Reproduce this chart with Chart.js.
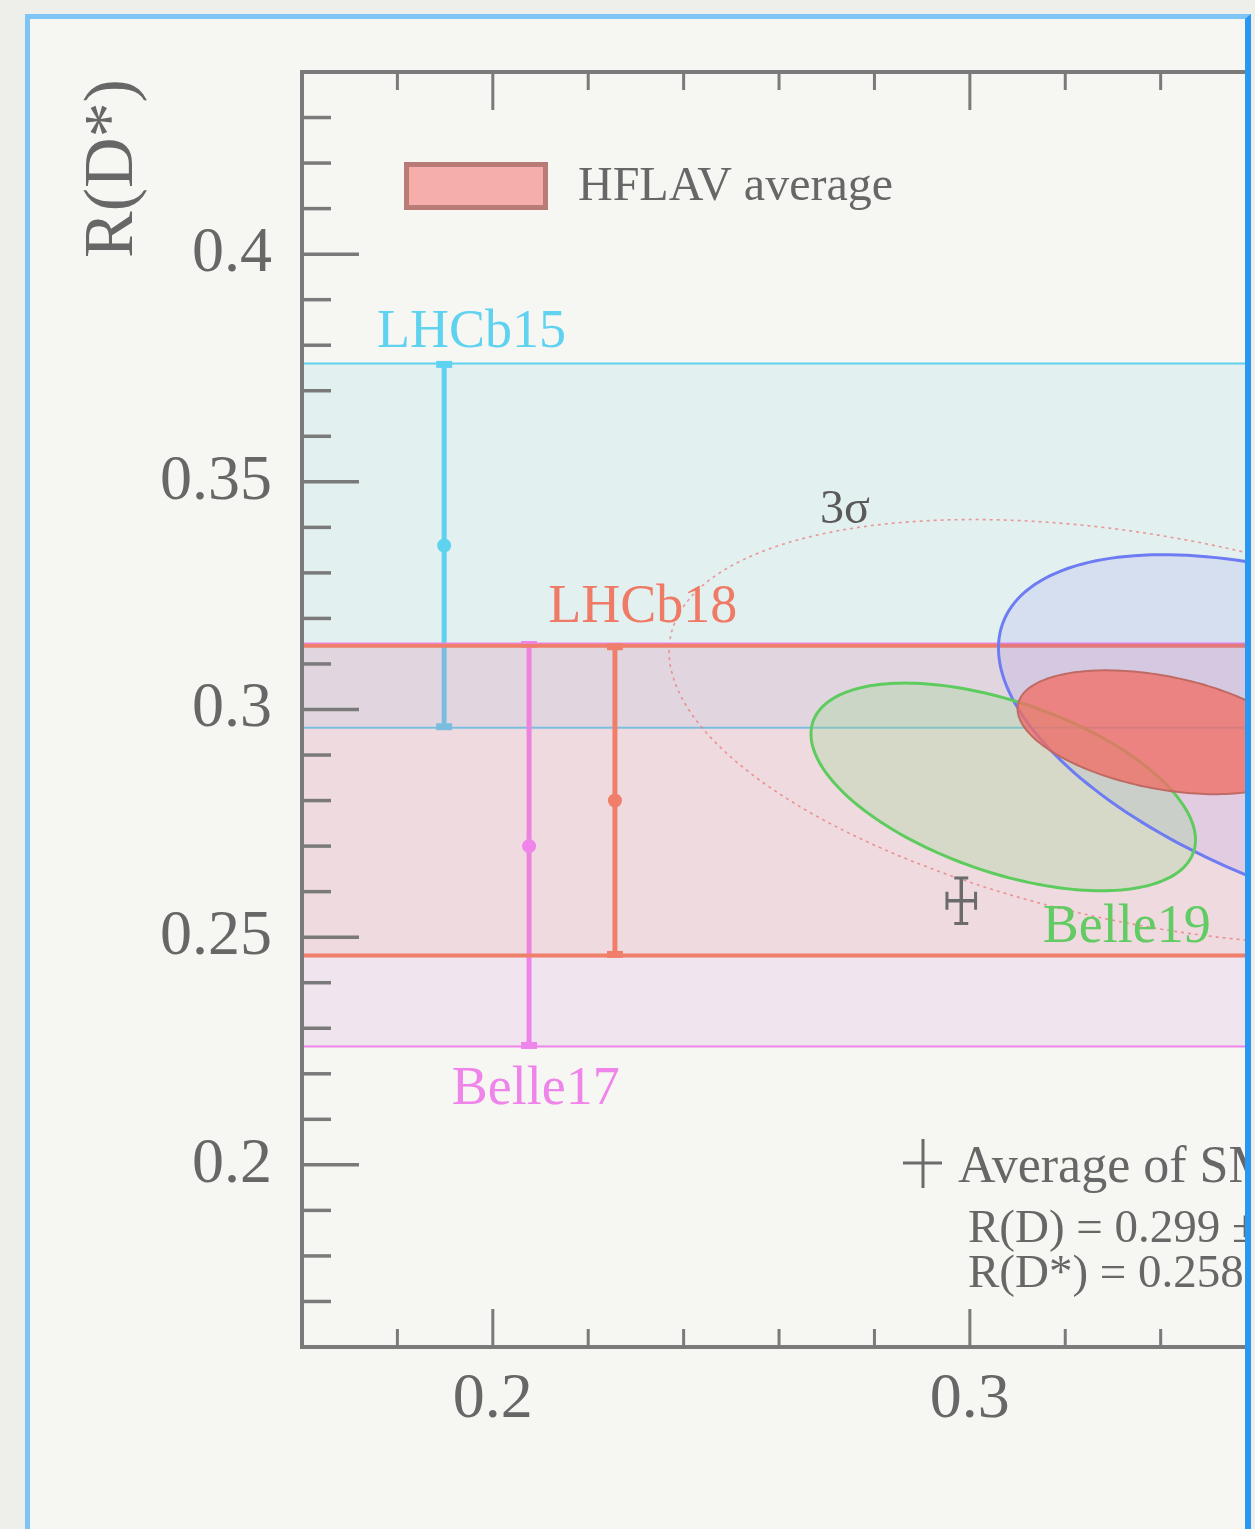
<!DOCTYPE html>
<html>
<head>
<meta charset="utf-8">
<script src="https://cdn.jsdelivr.net/npm/chart.js@4.4.1/dist/chart.umd.min.js"></script>
<style>
  html, body { margin: 0; padding: 0; width: 1255px; height: 1529px; overflow: hidden; background: #eeeeea; }
  #panel {
    position: absolute; left: 25px; top: 14px; width: 1215px; height: 1600px;
    background: #f6f6f2; overflow: hidden;
    border-left: 5px solid #7ec4f4; border-top: 5px solid #7ec4f4; border-right: 6px solid #2a97f0;
  }
  #chart { position: absolute; left: -30px; top: -19px; width: 1620px; height: 1529px; }
</style>
</head>
<body>
<div id="panel"><canvas id="chart" width="1620" height="1529"></canvas></div>
<script>
const xTickValues = [0.2, 0.3, 0.4];
const yTickValues = [0.2, 0.25, 0.3, 0.35, 0.4];

// R(D*)-only measurements: band + error bar (x is just where the bar sits)
const barNames = ["LHCb15", "Belle17", "LHCb18"];
const barX = [0.1898, 0.2076, 0.2256];
const barValue = [0.336, 0.270, 0.280];
const barHigh = [0.376, 0.3145, 0.314];
const barLow = [0.296, 0.226, 0.246];

// R(D) vs R(D*) measurements: centre, total errors, correlation
const ellNames = ["Belle15", "Belle19", "HFLAV average"];
const ellRD = [0.375, 0.307, 0.340];
const ellRDs = [0.293, 0.283, 0.295];
const ellErrRD = [0.069, 0.0403, 0.030];
const ellErrRDs = [0.041, 0.0228, 0.0136];
const ellRho = [-0.50, -0.51, -0.38];

// average of SM predictions (as drawn)
const smRD = [0.2982];
const smRDs = [0.258];
const smErrRD = [0.003];
const smErrRDs = [0.005];

const serif = '"Liberation Serif", "DejaVu Serif", serif';
const axisGray = "#7a7a7a";
const textGray = "#676767";

const barStyle = {
  LHCb15: { color: "#5fd2f0", band: "rgba(90,195,230,0.12)", line: 2 },
  Belle17: { color: "#ef84ea", band: "rgba(205,130,215,0.15)", line: 2 },
  LHCb18: { color: "#ef7f6b", band: "rgba(240,128,112,0.10)", line: 4 },
};
const ellStyle = {
  Belle15: { fill: "rgba(120,100,235,0.12)", stroke: "#6d7cf2", width: 3 },
  Belle19: { fill: "rgba(150,215,140,0.29)", stroke: "#5ecb5e", width: 3 },
  "HFLAV average": { fill: "rgba(240,110,100,0.78)", stroke: "#c06a64", width: 2 },
};

// labels placed in data coordinates
const textLabels = [
  { text: "LHCb15", x: 0.1757, y: 0.3796, color: "#5fd2f0", size: 54 },
  { text: "LHCb18", x: 0.2116, y: 0.3192, color: "#ee7b66", size: 54 },
  { text: "Belle17", x: 0.1914, y: 0.2134, color: "#ef84ea", size: 54 },
  { text: "Belle19", x: 0.3153, y: 0.2489, color: "#63cb63", size: 54 },
  { text: "3\u03c3", x: 0.2686, y: 0.341, color: "#5a5a5a", size: 48 },
];

function ellipsePath(ctx, x, y, i, k) {
  const s = Math.sqrt(k);
  const r = ellRho[i];
  ctx.beginPath();
  for (let j = 0; j <= 200; j++) {
    const t = (j / 200) * 2 * Math.PI;
    const vx = ellRD[i] + s * ellErrRD[i] * Math.cos(t);
    const vy = ellRDs[i] + s * ellErrRDs[i] * (r * Math.cos(t) + Math.sqrt(1 - r * r) * Math.sin(t));
    const px = x.getPixelForValue(vx);
    const py = y.getPixelForValue(vy);
    if (j === 0) ctx.moveTo(px, py);
    else ctx.lineTo(px, py);
  }
  ctx.closePath();
}

function line(ctx, x1, y1, x2, y2) {
  ctx.beginPath();
  ctx.moveTo(x1, y1);
  ctx.lineTo(x2, y2);
  ctx.stroke();
}

const hflavPlugin = {
  id: "hflav",
  beforeDatasetsDraw(chart) {
    const { ctx, chartArea: a, scales: { x, y } } = chart;
    ctx.save();
    ctx.beginPath();
    ctx.rect(a.left, a.top, a.right - a.left, a.bottom - a.top);
    ctx.clip();

    // bands and error bars
    barNames.forEach((name, i) => {
      const st = barStyle[name];
      const yh = y.getPixelForValue(barHigh[i]);
      const yl = y.getPixelForValue(barLow[i]);
      ctx.fillStyle = st.band;
      ctx.fillRect(a.left, yh, a.right - a.left, yl - yh);
      ctx.strokeStyle = st.color;
      ctx.lineWidth = st.line;
      line(ctx, a.left, yh, a.right, yh);
      line(ctx, a.left, yl, a.right, yl);
      const px = x.getPixelForValue(barX[i]);
      ctx.lineWidth = 5;
      line(ctx, px, yh, px, yl);
      ctx.lineWidth = 7;
      line(ctx, px - 8, yh + 1, px + 8, yh + 1);
      line(ctx, px - 8, yl - 1, px + 8, yl - 1);
    });

    // ellipses (delta chi2 = 1)
    [0, 1].forEach((i) => {
      ellipsePath(ctx, x, y, i, 1);
      ctx.fillStyle = ellStyle[ellNames[i]].fill;
      ctx.fill();
    });
    [0, 1].forEach((i) => {
      ellipsePath(ctx, x, y, i, 1);
      ctx.strokeStyle = ellStyle[ellNames[i]].stroke;
      ctx.lineWidth = ellStyle[ellNames[i]].width;
      ctx.stroke();
    });
    const av = ellStyle["HFLAV average"];
    ellipsePath(ctx, x, y, 2, 1);
    ctx.fillStyle = av.fill;
    ctx.fill();
    ctx.strokeStyle = av.stroke;
    ctx.lineWidth = av.width;
    ctx.stroke();

    // 3 sigma contour of the average
    ellipsePath(ctx, x, y, 2, 11.8);
    ctx.setLineDash([3, 4]);
    ctx.strokeStyle = "rgba(235,120,120,0.75)";
    ctx.lineWidth = 1.6;
    ctx.stroke();
    ctx.setLineDash([]);

    // SM average cross
    const cx = x.getPixelForValue(smRD[0]);
    const cy = y.getPixelForValue(smRDs[0]);
    const x1 = x.getPixelForValue(smRD[0] - smErrRD[0]);
    const x2 = x.getPixelForValue(smRD[0] + smErrRD[0]);
    const y1 = y.getPixelForValue(smRDs[0] + smErrRDs[0]);
    const y2 = y.getPixelForValue(smRDs[0] - smErrRDs[0]);
    ctx.strokeStyle = "#6b6b6b";
    ctx.lineWidth = 3.5;
    line(ctx, cx, y1, cx, y2);
    line(ctx, x1, cy, x2, cy);
    ctx.lineWidth = 3;
    line(ctx, cx - 7, y1, cx + 7, y1);
    line(ctx, cx - 7, y2, cx + 7, y2);
    line(ctx, x1, cy - 9, x1, cy + 9);
    line(ctx, x2, cy - 9, x2, cy + 9);
    ctx.restore();
  },
  afterDraw(chart) {
    const { ctx, chartArea: a, scales: { x, y } } = chart;
    ctx.save();

    // frame
    ctx.strokeStyle = axisGray;
    ctx.lineWidth = 4;
    ctx.beginPath();
    ctx.moveTo(a.right, a.top);
    ctx.lineTo(a.left, a.top);
    ctx.lineTo(a.left, a.bottom);
    ctx.lineTo(a.right, a.bottom);
    ctx.stroke();

    // inward ticks
    ctx.lineWidth = 3.5;
    for (let k = 17; k <= 43; k++) {
      const py = y.getPixelForValue(k / 100);
      const major = k % 5 === 0;
      line(ctx, a.left, py, a.left + (major ? 57 : 29), py);
    }
    ctx.lineWidth = 3;
    for (let k = 9; k <= 21; k++) {
      const px = x.getPixelForValue(k / 50);
      const major = k % 5 === 0;
      const len = major ? 38 : 18;
      line(ctx, px, a.bottom, px, a.bottom - len);
      line(ctx, px, a.top, px, a.top + len);
    }

    // axis title
    ctx.fillStyle = textGray;
    ctx.font = "70px " + serif;
    ctx.textBaseline = "alphabetic";
    ctx.textAlign = "left";
    ctx.save();
    ctx.translate(132, 258);
    ctx.rotate(-Math.PI / 2);
    ctx.fillText("R(D*)", 0, 0);
    ctx.restore();

    // measurement labels
    textLabels.forEach((l) => {
      ctx.fillStyle = l.color;
      ctx.font = l.size + "px " + serif;
      ctx.fillText(l.text, x.getPixelForValue(l.x), y.getPixelForValue(l.y));
    });

    // legend
    ctx.fillStyle = "#f6aeaa";
    ctx.fillRect(404, 162, 144, 48);
    ctx.strokeStyle = "#b97b76";
    ctx.lineWidth = 5;
    ctx.strokeRect(406.5, 164.5, 139, 43);
    ctx.fillStyle = textGray;
    ctx.font = "48px " + serif;
    ctx.fillText("HFLAV average", 578, 200);

    // SM legend
    ctx.strokeStyle = "#6b6b6b";
    ctx.lineWidth = 3;
    line(ctx, 903, 1163, 942, 1163);
    line(ctx, 923, 1139, 923, 1188);
    ctx.fillStyle = textGray;
    ctx.font = "52px " + serif;
    ctx.fillText("Average of SM predictions", 958, 1182);
    ctx.font = "47px " + serif;
    ctx.fillText("R(D) = 0.299 \u00b1 0.003", 968, 1242);
    ctx.fillText("R(D*) = 0.258 \u00b1 0.005", 968, 1287);
    ctx.restore();
  },
};

new Chart(document.getElementById("chart"), {
  type: "scatter",
  data: {
    datasets: [
      {
        label: "R(D*) measurements",
        data: barX.map((v, i) => ({ x: v, y: barValue[i] })),
        pointBackgroundColor: barNames.map((n) => barStyle[n].color),
        pointBorderWidth: 0,
        pointRadius: 7,
      },
      {
        label: "Average of SM predictions",
        data: smRD.map((v, i) => ({ x: v, y: smRDs[i] })),
        pointRadius: 0,
      },
    ],
  },
  options: {
    responsive: false,
    animation: false,
    devicePixelRatio: 1,
    layout: { padding: { top: 72, right: 30, left: 0, bottom: 0 } },
    plugins: { legend: { display: false }, tooltip: { enabled: false } },
    scales: {
      x: {
        type: "linear",
        min: 0.16,
        max: 0.43,
        grid: { display: false, drawTicks: false },
        border: { display: false },
        afterBuildTicks: (s) => { s.ticks = xTickValues.map((v) => ({ value: v })); },
        afterFit: (s) => { s.height = 182; },
        ticks: {
          padding: 15,
          color: textGray,
          font: { family: serif, size: 64 },
          maxRotation: 0,
          autoSkip: false,
          callback: (v) => String(+v.toFixed(2)),
        },
      },
      y: {
        type: "linear",
        min: 0.16,
        max: 0.44,
        grid: { display: false, drawTicks: false },
        border: { display: false },
        afterBuildTicks: (s) => { s.ticks = yTickValues.map((v) => ({ value: v })); },
        afterFit: (s) => { s.width = 302; },
        ticks: {
          padding: 30,
          color: textGray,
          font: { family: serif, size: 64 },
          autoSkip: false,
          callback: (v) => String(+v.toFixed(2)),
        },
      },
    },
  },
  plugins: [hflavPlugin],
});
</script>
</body>
</html>
